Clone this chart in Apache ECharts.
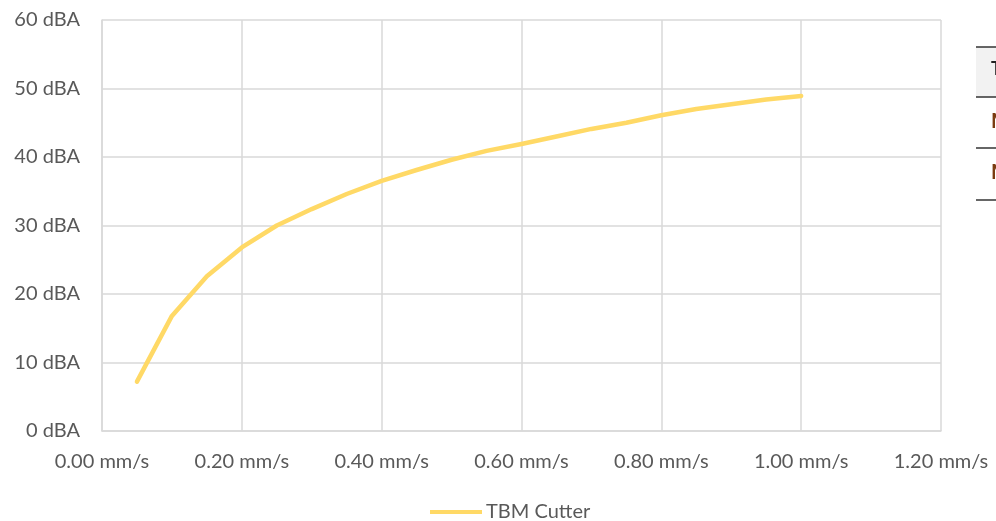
<!DOCTYPE html>
<html>
<head>
<meta charset="utf-8">
<script src="https://cdn.jsdelivr.net/npm/echarts@6/dist/echarts.min.js"></script>
<style>
html,body{margin:0;padding:0;background:#fff;}
#chart{width:996px;height:521px;}
</style>
</head>
<body>
<div id="chart"></div>
<script>
var seriesName = 'TBM Cutter';
var speeds = [0.05, 0.10, 0.15, 0.20, 0.25, 0.30, 0.35, 0.40, 0.45, 0.50, 0.55, 0.60, 0.65, 0.70, 0.75, 0.80, 0.85, 0.90, 0.95, 1.00];
var noise = [7.2, 16.8, 22.6, 26.8, 30.0, 32.4, 34.6, 36.5, 38.1, 39.6, 40.9, 41.9, 43.0, 44.1, 45.0, 46.1, 47.0, 47.7, 48.4, 48.9];
var tableHeader = 'T';
var tableRows = ['M', 'M'];

var chart = echarts.init(document.getElementById('chart'));
var txt = '#595959';
var font = 'Lato, "Open Sans", sans-serif';
var pts = speeds.map(function (s, i) { return [s, noise[i]]; });

chart.setOption({
  animation: false,
  backgroundColor: '#ffffff',
  textStyle: { fontFamily: font },
  grid: { left: 102, right: 55, top: 20, bottom: 90 },
  legend: {
    left: 430,
    top: 502,
    padding: 0,
    itemWidth: 52,
    itemHeight: 4,
    itemGap: 6,
    icon: 'rect',
    textStyle: { color: txt, fontSize: 20, fontFamily: font, padding: [0, 0, 0, -1] },
    data: [seriesName]
  },
  xAxis: {
    type: 'value',
    min: 0, max: 1.2, interval: 0.2,
    axisLine: { show: true, lineStyle: { color: '#d9d9d9', width: 1.5 } },
    axisTick: { show: false },
    splitLine: { show: true, lineStyle: { color: '#d9d9d9', width: 1.5 } },
    axisLabel: {
      color: txt, fontSize: 20, margin: 21, fontFamily: font,
      formatter: function (v) { return v.toFixed(2) + ' mm/s'; }
    }
  },
  yAxis: {
    type: 'value',
    min: 0, max: 60, interval: 10,
    axisLine: { show: true, lineStyle: { color: '#d9d9d9', width: 1.5 } },
    axisTick: { show: false },
    splitLine: { show: true, lineStyle: { color: '#d9d9d9', width: 1.5 } },
    axisLabel: {
      color: txt, fontSize: 20, margin: 22, fontFamily: font,
      formatter: function (v) { return v + ' dBA'; }
    }
  },
  series: [{
    name: seriesName,
    type: 'line',
    data: pts,
    showSymbol: false,
    symbol: 'none',
    lineStyle: { color: '#FFD966', width: 4.5, cap: 'round', join: 'round' },
    itemStyle: { color: '#FFD966' }
  }],
  graphic: [
    { type: 'rect', shape: { x: 976, y: 47, width: 20, height: 50 }, style: { fill: '#f2f2f2' } },
    { type: 'line', shape: { x1: 976, y1: 47, x2: 996, y2: 47 }, style: { stroke: '#333', lineWidth: 1.5 } },
    { type: 'line', shape: { x1: 976, y1: 97, x2: 996, y2: 97 }, style: { stroke: '#333', lineWidth: 1.5 } },
    { type: 'line', shape: { x1: 976, y1: 148, x2: 996, y2: 148 }, style: { stroke: '#333', lineWidth: 1.5 } },
    { type: 'line', shape: { x1: 976, y1: 200, x2: 996, y2: 200 }, style: { stroke: '#333', lineWidth: 1.5 } },
    { type: 'text', x: 991, y: 60, style: { text: tableHeader, fill: '#222', fontSize: 18, fontFamily: font, fontWeight: 'bold' } },
    { type: 'text', x: 991, y: 112, style: { text: tableRows[0], fill: '#7a3b10', fontSize: 20, fontFamily: font, fontWeight: 'bold' } },
    { type: 'text', x: 991, y: 163, style: { text: tableRows[1], fill: '#7a3b10', fontSize: 20, fontFamily: font, fontWeight: 'bold' } }
  ]
});
</script>
</body>
</html>
